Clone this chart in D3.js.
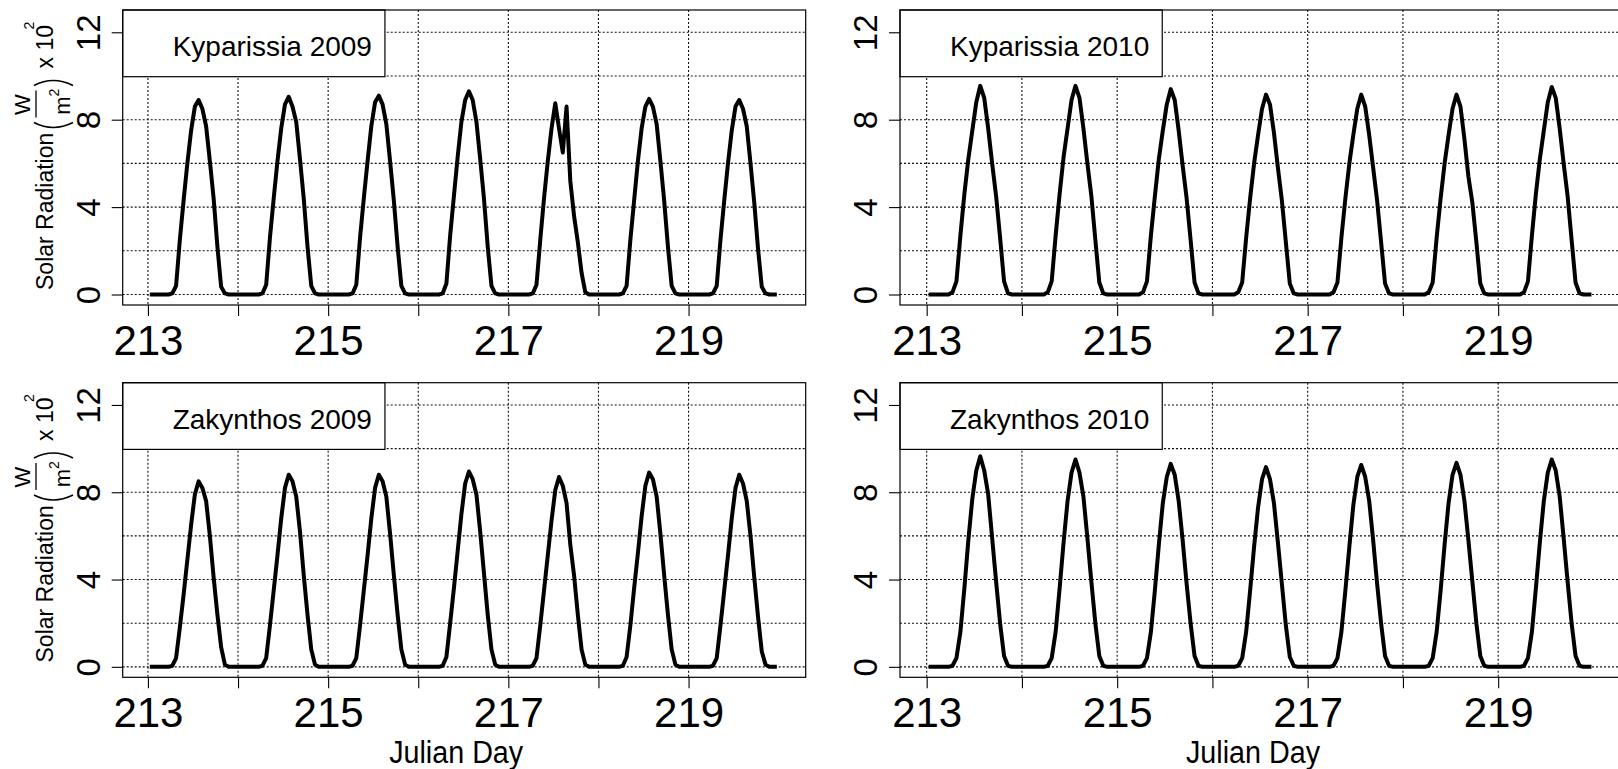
<!DOCTYPE html>
<html>
<head>
<meta charset="utf-8">
<script src="https://cdn.jsdelivr.net/npm/d3@7"></script>
<style>
  body { margin: 0; background: #fff; }
  svg { display: block; }
  text { font-family: "Liberation Sans", Arial, Helvetica, sans-serif; fill: #000; }
</style>
</head>
<body>
<svg id="chart" width="1618" height="769"></svg>
<script>
// Julian days shown and the hourly stamps (middle of each hour) of the readings
const days = [213, 214, 215, 216, 217, 218, 219];
const hourMarks = [0.5, 1.5, 2.5, 3.5, 4.5, 5.5, 6.5, 7.5, 8.5, 9.5, 10.5, 11.5,
                   12.5, 13.5, 14.5, 15.5, 16.5, 17.5, 18.5, 19.5, 20.5, 21.5, 22.5, 23.5];

// Hourly solar radiation, W/m² x 10², one row per day
const kyparissia2009 = [
  [0,0,0,0,0,0,0.05,0.4,2.5,4.3,6.0,7.5,8.6,8.9,8.5,7.7,6.1,4.4,2.2,0.35,0.05,0,0,0],
  [0,0,0,0,0,0,0.05,0.45,2.6,4.4,6.1,7.6,8.7,9.05,8.6,7.9,6.2,4.4,2.2,0.4,0.05,0,0,0],
  [0,0,0,0,0,0,0.05,0.45,2.6,4.4,6.1,7.7,8.8,9.1,8.7,7.8,6.1,4.3,2.2,0.4,0.05,0,0,0],
  [0,0,0,0,0,0,0.05,0.5,2.7,4.5,6.3,7.9,8.9,9.3,8.9,7.9,6.2,4.4,2.2,0.4,0.05,0,0,0],
  [0,0,0,0,0,0,0.05,0.45,2.5,4.4,6.1,7.6,8.75,7.6,6.5,8.6,5.2,3.6,2.4,1.0,0.1,0,0,0],
  [0,0,0,0,0,0,0.05,0.4,2.5,4.3,6.1,7.6,8.6,8.95,8.6,7.8,6.1,4.3,2.2,0.4,0.05,0,0,0],
  [0,0,0,0,0,0,0.05,0.4,2.5,4.3,6.0,7.5,8.6,8.9,8.5,7.7,6.0,4.2,2.1,0.35,0.05,0,0,0]
];
const kyparissia2010 = [
  [0,0,0,0,0,0,0.1,0.6,2.7,4.6,6.2,7.5,8.8,9.55,9.0,7.6,6.0,4.5,2.6,0.6,0.05,0,0,0],
  [0,0,0,0,0,0,0.1,0.6,2.7,4.6,6.3,7.6,8.9,9.55,9.0,7.6,6.0,4.5,2.5,0.55,0.05,0,0,0],
  [0,0,0,0,0,0,0.1,0.6,2.7,4.5,6.2,7.5,8.7,9.4,8.9,7.5,5.9,4.4,2.5,0.55,0.05,0,0,0],
  [0,0,0,0,0,0,0.1,0.55,2.6,4.4,6.0,7.3,8.5,9.15,8.7,7.4,5.8,4.3,2.4,0.5,0.05,0,0,0],
  [0,0,0,0,0,0,0.1,0.55,2.6,4.4,6.0,7.3,8.5,9.15,8.6,7.3,5.8,4.3,2.4,0.5,0.05,0,0,0],
  [0,0,0,0,0,0,0.1,0.55,2.6,4.4,6.0,7.3,8.5,9.15,8.6,7.1,5.4,4.2,2.4,0.5,0.05,0,0,0],
  [0,0,0,0,0,0,0.1,0.6,2.7,4.6,6.2,7.5,8.8,9.5,9.0,7.6,6.0,4.5,2.5,0.55,0.05,0,0,0]
];
const zakynthos2009 = [
  [0,0,0,0,0,0,0.05,0.4,1.8,3.3,4.9,6.5,7.9,8.5,8.2,7.6,6.0,4.1,2.4,0.9,0.1,0,0,0],
  [0,0,0,0,0,0,0.05,0.4,1.9,3.5,5.1,6.8,8.2,8.8,8.5,7.8,6.2,4.2,2.4,0.8,0.1,0,0,0],
  [0,0,0,0,0,0,0.05,0.4,1.9,3.5,5.1,6.8,8.2,8.8,8.5,7.8,6.1,4.2,2.4,0.8,0.1,0,0,0],
  [0,0,0,0,0,0,0.05,0.45,2.0,3.6,5.3,7.0,8.4,8.95,8.6,7.9,6.2,4.3,2.4,0.8,0.1,0,0,0],
  [0,0,0,0,0,0,0.05,0.4,1.9,3.5,5.1,6.7,8.1,8.7,8.3,7.5,5.6,4.2,2.4,0.8,0.1,0,0,0],
  [0,0,0,0,0,0,0.05,0.45,1.9,3.6,5.2,6.9,8.3,8.9,8.6,7.8,6.1,4.2,2.4,0.8,0.1,0,0,0],
  [0,0,0,0,0,0,0.05,0.4,1.9,3.5,5.1,6.8,8.2,8.8,8.4,7.6,6.0,4.1,2.3,0.7,0.1,0,0,0]
];
const zakynthos2010 = [
  [0,0,0,0,0,0,0.05,0.4,1.6,3.6,5.8,7.7,9.0,9.65,9.0,7.9,5.9,3.9,2.0,0.5,0.05,0,0,0],
  [0,0,0,0,0,0,0.05,0.4,1.6,3.6,5.7,7.6,8.9,9.5,8.9,7.8,5.9,3.9,2.0,0.5,0.05,0,0,0],
  [0,0,0,0,0,0,0.05,0.4,1.6,3.5,5.6,7.5,8.7,9.3,8.8,7.6,5.8,3.8,2.0,0.5,0.05,0,0,0],
  [0,0,0,0,0,0,0.05,0.4,1.6,3.5,5.5,7.3,8.6,9.15,8.6,7.5,5.7,3.8,1.9,0.45,0.05,0,0,0],
  [0,0,0,0,0,0,0.05,0.4,1.6,3.5,5.5,7.4,8.7,9.25,8.7,7.6,5.8,3.8,2.0,0.5,0.05,0,0,0],
  [0,0,0,0,0,0,0.05,0.4,1.6,3.5,5.6,7.5,8.8,9.35,8.8,7.6,5.8,3.9,2.0,0.5,0.05,0,0,0],
  [0,0,0,0,0,0,0.05,0.4,1.6,3.6,5.7,7.6,8.9,9.5,9.0,7.8,5.9,3.9,2.0,0.5,0.05,0,0,0]
];

// Axis ticks, labels and grid levels
const xTicks = [213, 214, 215, 216, 217, 218, 219];
const xTickLabels = [213, 215, 217, 219];
const yTicks = [0, 4, 8, 12];
const yGrid = [0, 2, 4, 6, 8, 10, 12];
const panelTitles = ["Kyparissia 2009", "Kyparissia 2010", "Zakynthos 2009", "Zakynthos 2010"];

const svg = d3.select("#chart");
svg.append("rect").attr("width", 1618).attr("height", 769).attr("fill", "#fff");

const panels = [
  { title: panelTitles[0], series: kyparissia2009, left: 122.7, right: 805.7, top: 10, bottom: 305, yTitle: true, xTitle: false },
  { title: panelTitles[1], series: kyparissia2010, left: 900, right: 1622, top: 10, bottom: 305, yTitle: false, xTitle: false },
  { title: panelTitles[2], series: zakynthos2009, left: 122.7, right: 805.7, top: 382.7, bottom: 677.3, yTitle: true, xTitle: true },
  { title: panelTitles[3], series: zakynthos2010, left: 900, right: 1622, top: 382.7, bottom: 677.3, yTitle: false, xTitle: true }
];

panels.forEach(p => {
  const x = d3.scaleLinear().domain([212.72, 220.30]).range([p.left, p.right]);
  const y = d3.scaleLinear().domain([-0.48, 13.02]).range([p.bottom, p.top]);
  const g = svg.append("g");

  // dotted grid
  g.append("g").selectAll("line").data(xTicks).join("line")
    .attr("x1", d => x(d)).attr("x2", d => x(d))
    .attr("y1", p.top).attr("y2", p.bottom)
    .attr("stroke", "#111").attr("stroke-width", 1.1).attr("stroke-dasharray", "2,2");
  g.append("g").selectAll("line").data(yGrid).join("line")
    .attr("x1", p.left).attr("x2", p.right)
    .attr("y1", d => y(d)).attr("y2", d => y(d))
    .attr("stroke", "#111").attr("stroke-width", 1.1).attr("stroke-dasharray", "2,2");

  // legend box in the top-left corner
  const leg = g.append("g");
  const legRect = leg.append("rect")
    .attr("x", p.left).attr("y", p.top).attr("height", 66.7)
    .attr("fill", "#fff").attr("stroke", "#000").attr("stroke-width", 1.2);
  const legText = leg.append("text")
    .attr("x", p.left + 50).attr("y", p.top + 46)
    .attr("font-size", 28).text(p.title);
  legRect.attr("width", 50 + legText.node().getComputedTextLength() + 13);

  // radiation curve
  const points = p.series.flatMap((row, i) =>
    row.map((v, j) => ({ t: days[i] + hourMarks[j] / 24, v })));
  const line = d3.line().x(d => x(d.t)).y(d => y(d.v));
  g.append("path").datum(points)
    .attr("d", line)
    .attr("fill", "none").attr("stroke", "#000")
    .attr("stroke-width", 4).attr("stroke-linejoin", "round");

  // frame
  g.append("rect")
    .attr("x", p.left).attr("y", p.top)
    .attr("width", p.right - p.left).attr("height", p.bottom - p.top)
    .attr("fill", "none").attr("stroke", "#000").attr("stroke-width", 1.2);

  // x axis
  const xAxis = d3.axisBottom(x).tickValues(xTicks).tickSize(11)
    .tickFormat(d => xTickLabels.includes(d) ? String(d) : "");
  const xg = g.append("g").attr("transform", `translate(0,${p.bottom})`).call(xAxis);
  xg.select(".domain").remove();
  xg.selectAll(".tick line").attr("stroke", "#000").attr("stroke-width", 1.1);
  xg.selectAll(".tick text")
    .attr("y", 50).attr("dy", 0)
    .attr("font-size", 42).attr("font-family", "Liberation Sans, Arial, sans-serif")
    .attr("fill", "#000");

  // y axis with labels running along the axis
  const yAxis = d3.axisLeft(y).tickValues(yTicks).tickSize(11).tickFormat(d => String(d));
  const yg = g.append("g").attr("transform", `translate(${p.left},0)`).call(yAxis);
  yg.select(".domain").remove();
  yg.selectAll(".tick line").attr("stroke", "#000").attr("stroke-width", 1.1);
  yg.selectAll(".tick text")
    .attr("x", 0).attr("y", 0).attr("dy", 0)
    .attr("transform", "translate(-23,0) rotate(-90)")
    .attr("text-anchor", "middle")
    .attr("font-size", 33).attr("font-family", "Liberation Sans, Arial, sans-serif")
    .attr("fill", "#000");

  // x axis title
  if (p.xTitle) {
    g.append("text")
      .attr("x", (p.left + p.right) / 2 - 8).attr("y", p.bottom + 86)
      .attr("text-anchor", "middle").attr("font-size", 31)
      .attr("textLength", 134).attr("lengthAdjust", "spacingAndGlyphs")
      .text("Julian Day");
  }

  // y axis title: Solar Radiation (W / m²) x 10²
  if (p.yTitle) {
    const t = g.append("g")
      .attr("transform", `translate(53,${(p.top + p.bottom) / 2}) rotate(-90)`);
    t.append("text").attr("x", -132.5).attr("y", 0).attr("font-size", 23).text("Solar Radiation");
    // scaled round brackets around the fraction
    t.append("path").attr("d", "M35,-19 Q25,0 35,20")
      .attr("fill", "none").attr("stroke", "#000").attr("stroke-width", 1.6);
    t.append("path").attr("d", "M72,-19 Q82,0 72,20")
      .attr("fill", "none").attr("stroke", "#000").attr("stroke-width", 1.6);
    t.append("text").attr("x", 53).attr("y", -23).attr("text-anchor", "middle").attr("font-size", 22).text("W");
    t.append("line").attr("x1", 40).attr("x2", 67).attr("y1", -17).attr("y2", -17)
      .attr("stroke", "#000").attr("stroke-width", 1.3);
    t.append("text").attr("x", 52).attr("y", 17).attr("text-anchor", "middle").attr("font-size", 22).text("m");
    t.append("text").attr("x", 61).attr("y", 6).attr("font-size", 14).text("2");
    t.append("text").attr("x", 89).attr("y", 0).attr("font-size", 23).text("x 10");
    t.append("text").attr("x", 128).attr("y", -19).attr("font-size", 14).text("2");
  }
});
</script>
</body>
</html>
